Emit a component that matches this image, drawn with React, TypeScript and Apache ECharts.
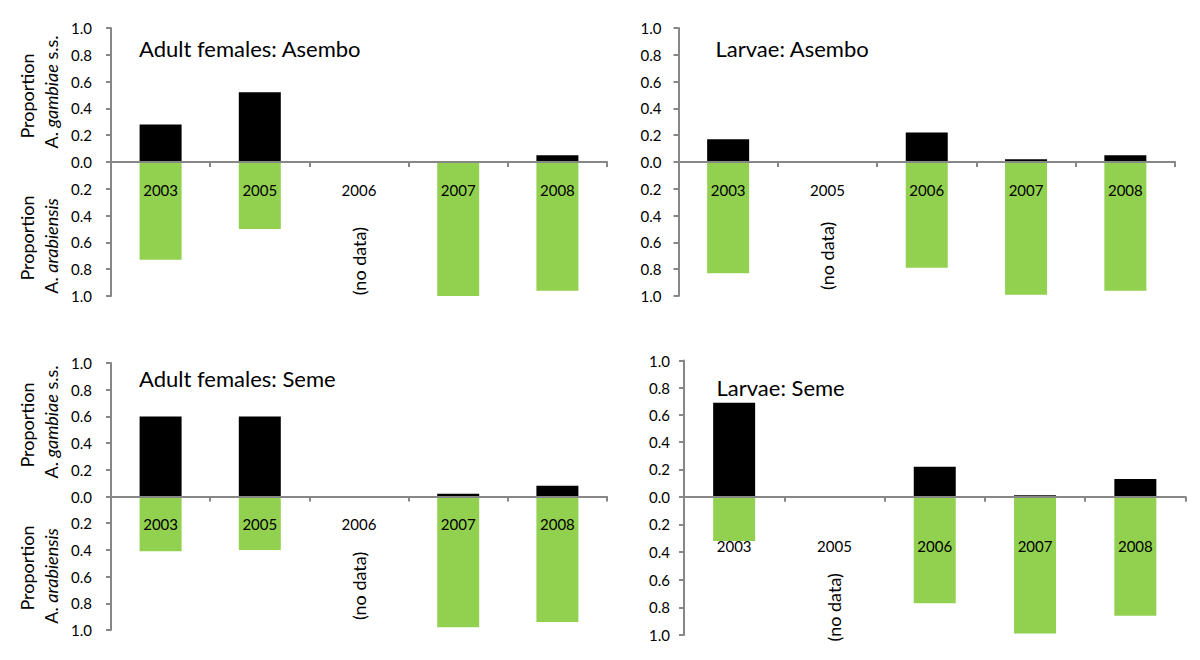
import React, { useEffect, useRef } from "react";
import * as echarts from "echarts";

// Categories (years) for every panel
const years = ["2003", "2005", "2006", "2007", "2008"];

// Proportions (null = no data)
const adultAsemboGambiae = [0.28, 0.52, null, 0, 0.05];
const adultAsemboArabiensis = [0.73, 0.5, null, 1.0, 0.96];
const larvaeAsemboGambiae = [0.17, null, 0.22, 0.02, 0.05];
const larvaeAsemboArabiensis = [0.83, null, 0.79, 0.99, 0.96];
const adultSemeGambiae = [0.6, 0.6, null, 0.02, 0.08];
const adultSemeArabiensis = [0.41, 0.4, null, 0.98, 0.94];
const larvaeSemeGambiae = [0.69, null, 0.22, 0.01, 0.13];
const larvaeSemeArabiensis = [0.32, null, 0.77, 0.99, 0.86];

const panelTitles = [
  "Adult females: Asembo",
  "Larvae: Asembo",
  "Adult females: Seme",
  "Larvae: Seme",
];
const noDataLabel = "(no data)";
const noDataIndex = [2, 1, 2, 1];

const FONT = "Lato, 'Open Sans', sans-serif";
const AXIS_COLOR = "#878787";
const GREEN = "#92D050";

export default function App() {
  const ref = useRef<HTMLDivElement>(null);

  useEffect(() => {
    if (!ref.current) return;
    const chart = echarts.init(ref.current, undefined, { renderer: "svg" });

    const panels = [
      { g: adultAsemboGambiae, a: adultAsemboArabiensis },
      { g: larvaeAsemboGambiae, a: larvaeAsemboArabiensis },
      { g: adultSemeGambiae, a: adultSemeArabiensis },
      { g: larvaeSemeGambiae, a: larvaeSemeArabiensis },
    ];

    // panel frames: left, width, top (1.0), zero line, bottom (1.0)
    const frames = [
      { left: 111, width: 496, top: 28, zero: 162, bottom: 296 },
      { left: 678.5, width: 496.5, top: 28, zero: 162, bottom: 296 },
      { left: 111, width: 496, top: 363, zero: 496.5, bottom: 630 },
      { left: 684, width: 501.5, top: 360.5, zero: 496.7, bottom: 635 },
    ];
    const xLabelGap = [20, 20, 20, 42];
    const yLabelMargin = [19, 17, 19, 14];
    const yLabelShift = [6, 6, 0, 8];

    const grids: any[] = [];
    const xAxes: any[] = [];
    const yAxes: any[] = [];
    const series: any[] = [];

    const lineStyle = { color: AXIS_COLOR, width: 2 };

    frames.forEach((f, i) => {
      const up = i * 2;
      const lo = i * 2 + 1;
      grids.push({ left: f.left, width: f.width, top: f.top, height: f.zero - f.top });
      grids.push({ left: f.left, width: f.width, top: f.zero, height: f.bottom - f.zero });

      xAxes.push({
        type: "category",
        gridIndex: up,
        data: years,
        position: "bottom",
        z: 5,
        axisLine: { lineStyle },
        axisTick: { show: true, length: 5, interval: 0, lineStyle },
        axisLabel: {
          interval: 0,
          margin: xLabelGap[i],
          fontSize: 15,
          color: "#000",
          fontFamily: FONT,
        },
      });
      xAxes.push({
        type: "category",
        gridIndex: lo,
        data: years,
        show: false,
      });

      const yLabel = {
        margin: yLabelMargin[i],
        fontSize: 15,
        color: "#000",
        fontFamily: FONT,
        padding: [yLabelShift[i], 0, 0, 0],
        formatter: (v: number) => v.toFixed(1),
      };
      yAxes.push({
        type: "value",
        gridIndex: up,
        min: 0,
        max: 1,
        interval: 0.2,
        splitLine: { show: false },
        axisLine: { show: true, lineStyle },
        axisTick: { show: true, length: 5, lineStyle },
        axisLabel: yLabel,
      });
      yAxes.push({
        type: "value",
        gridIndex: lo,
        min: 0,
        max: 1,
        interval: 0.2,
        inverse: true,
        splitLine: { show: false },
        axisLine: { show: true, lineStyle },
        axisTick: { show: true, length: 5, lineStyle },
        axisLabel: { ...yLabel, showMinLabel: false },
      });

      series.push({
        type: "bar",
        name: "A. gambiae s.s.",
        xAxisIndex: up,
        yAxisIndex: up,
        barWidth: 42,
        itemStyle: { color: "#000" },
        data: panels[i].g,
      });
      series.push({
        type: "bar",
        name: "A. arabiensis",
        xAxisIndex: lo,
        yAxisIndex: lo,
        barWidth: 42,
        itemStyle: { color: GREEN },
        data: panels[i].a,
      });
    });

    chart.setOption({
      animation: false,
      backgroundColor: "#fff",
      grid: grids,
      xAxis: xAxes,
      yAxis: yAxes,
      series,
    });

    // annotations
    const titlePos = [
      [139, 48],
      [715.5, 48],
      [139, 378],
      [716.5, 387],
    ];
    const noDataY = [0.74, 0.7, 0.67, 0.8];
    const graphics: any[] = [];
    titlePos.forEach((pos, i) => {
      graphics.push({
        type: "text",
        x: pos[0],
        y: pos[1],
        z: 10,
        style: {
          text: panelTitles[i],
          font: `22px ${FONT}`,
          fill: "#000",
          align: "left",
          verticalAlign: "middle",
        },
      });
      const pt = chart.convertToPixel({ gridIndex: i * 2 + 1 } as any, [noDataIndex[i], noDataY[i]]) as number[];
      graphics.push({
        type: "text",
        x: pt[0],
        y: pt[1],
        rotation: Math.PI / 2,
        z: 10,
        style: {
          text: noDataLabel,
          font: `18px ${FONT}`,
          fill: "#000",
          align: "center",
          verticalAlign: "middle",
        },
      });
    });

    // y-axis names for the left panels
    const nameRich = {
      n: { fontSize: 18, fontFamily: FONT, fill: "#000" },
      i: { fontSize: 18, fontFamily: FONT, fontStyle: "italic", fill: "#000" },
    };
    const leftNames = [
      { x1: 27, x2: 51, yUp1: 96, yUp2: 92, yLo1: 238, yLo2: 246 },
      { x1: 27, x2: 51, yUp1: 425, yUp2: 422, yLo1: 568, yLo2: 576 },
    ];
    leftNames.forEach((n) => {
      const mk = (x: number, y: number, text: string) => ({
        type: "text",
        x,
        y,
        rotation: Math.PI / 2,
        z: 10,
        style: {
          text,
          rich: nameRich,
          font: `18px ${FONT}`,
          fill: "#000",
          align: "center",
          verticalAlign: "middle",
        },
      });
      graphics.push(mk(n.x1, n.yUp1, "{n|Proportion}"));
      graphics.push(mk(n.x2, n.yUp2, "{n|A. }{i|gambiae}{n| s.s.}"));
      graphics.push(mk(n.x1, n.yLo1, "{n|Proportion}"));
      graphics.push(mk(n.x2, n.yLo2, "{n|A. }{i|arabiensis}"));
    });

    chart.setOption({ graphic: graphics });

    return () => chart.dispose();
  }, []);

  return (
    <div
      ref={ref}
      style={{ position: "fixed", left: 0, top: 0, width: 1200, height: 660, background: "#fff" }}
    />
  );
}
